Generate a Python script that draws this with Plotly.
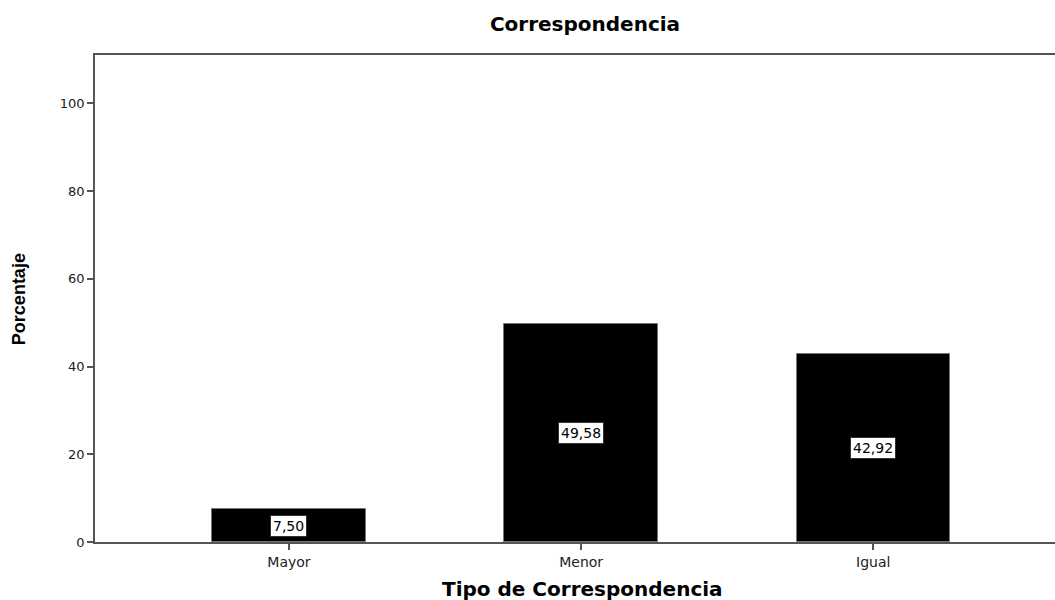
import plotly.graph_objects as go

# Data
categories = ["Mayor", "Menor", "Igual"]
percentages = [7.50, 49.58, 42.92]
y_ticks = [0, 20, 40, 60, 80, 100]

WIDE = "DejaVu Sans, Verdana, sans-serif"
PLAIN = "Liberation Sans, Arial, sans-serif"

fig = go.Figure()
fig.add_trace(go.Bar(
    x=categories,
    y=percentages,
    width=0.525,
    marker=dict(color="black", line=dict(color="#777777", width=1)),
    hoverinfo="x+y",
))

# Value labels in white boxes, centred at half the bar height
for cat, val in zip(categories, percentages):
    fig.add_annotation(
        x=cat, y=val / 2,
        text=f"{val:.2f}".replace(".", ","),
        showarrow=False,
        font=dict(family=WIDE, size=14, color="black"),
        bgcolor="white",
        bordercolor="#333333",
        borderwidth=1,
        borderpad=2,
    )

# Axis titles placed as annotations
fig.add_annotation(
    x=0.508, y=-0.097, xref="paper", yref="paper",
    xanchor="center", yanchor="middle",
    text="<b>Tipo de Correspondencia</b>",
    showarrow=False,
    font=dict(family=WIDE, size=20, color="black"),
)
fig.add_annotation(
    x=-0.079, y=0.499, xref="paper", yref="paper",
    xanchor="center", yanchor="middle",
    text="<b>Porcentaje</b>",
    textangle=-90,
    showarrow=False,
    font=dict(family=PLAIN, size=18, color="black"),
)

fig.update_layout(
    width=1055, height=600,
    margin=dict(l=95, r=0, t=55, b=58),
    paper_bgcolor="white",
    plot_bgcolor="white",
    showlegend=False,
    bargap=0,
    title=dict(
        text="<b>Correspondencia</b>",
        x=0.5545, xanchor="center",
        y=0.96, yanchor="middle",
        font=dict(family=WIDE, size=20, color="black"),
    ),
    xaxis=dict(
        type="category",
        range=[-0.664, 2.622],
        showline=True, linecolor="#555555", linewidth=1.5,
        mirror=True,
        ticks="outside", ticklen=6, tickcolor="#555555", tickwidth=1.5,
        tickfont=dict(family=WIDE, size=14, color="#222222"),
        showgrid=False, zeroline=False,
    ),
    yaxis=dict(
        range=[0, 111],
        tickvals=y_ticks,
        showline=True, linecolor="#555555", linewidth=1.5,
        ticks="outside", ticklen=6, tickcolor="#555555", tickwidth=1.5,
        tickfont=dict(family=WIDE, size=13, color="#222222"),
        showgrid=False, zeroline=False,
    ),
)

fig.write_html("out.html")
